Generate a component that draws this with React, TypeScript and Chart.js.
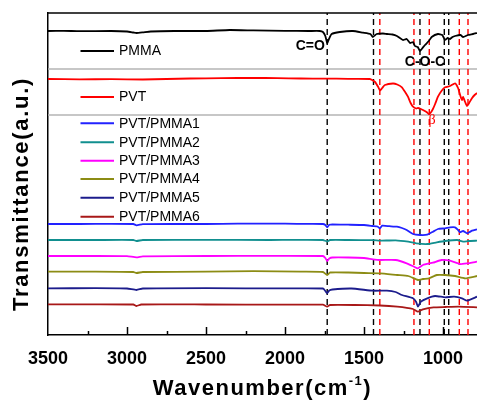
import React, { useEffect, useRef } from "react";
import { Chart, registerables } from "chart.js";

Chart.register(...registerables);

// ---------- data ----------
const X_MIN = 785;
const X_MAX = 3500;
const Y_MIN = 0;
const Y_MAX = 322;

const xTickValues = [1000, 1250, 1500, 1750, 2000, 2250, 2500, 2750, 3000, 3250, 3500];

const seriesLabels = ["PMMA", "PVT", "PVT/PMMA1", "PVT/PMMA2", "PVT/PMMA3", "PVT/PMMA4", "PVT/PMMA5", "PVT/PMMA6"];
const seriesColors = ["#000000", "#ff0000", "#2222ff", "#118f8f", "#ff00ff", "#8c8c14", "#1c1c8c", "#a81818"];

const pmma: [number, number][] = [
  [3500, 304], [3400, 304.2], [3300, 303.8], [3100, 304], [3000, 303.5], [2960, 302.5], [2940, 302], [2900, 302.6],
  [2850, 303.5], [2700, 304], [2500, 304], [2350, 305], [2200, 304.6], [2000, 304.2], [1850, 304], [1780, 304],
  [1760, 303], [1745, 299], [1733, 292], [1722, 296], [1705, 301], [1653, 303], [1570, 304], [1507, 302.3],
  [1460, 301], [1444, 298], [1420, 301], [1380, 301.5], [1355, 301], [1320, 300.5], [1292, 299], [1254, 295],
  [1230, 296], [1209, 292], [1190, 293], [1178, 289], [1160, 288], [1146, 284], [1130, 287], [1114, 290],
  [1090, 294], [1072, 298], [1032, 301], [1005, 300], [987, 295], [970, 297], [956, 296], [940, 298],
  [924, 299], [890, 300], [873, 298], [842, 300], [810, 301], [785, 302],
];

const pvt: [number, number][] = [
  [3500, 256], [3300, 255.7], [3100, 255.8], [2900, 255.5], [2750, 256], [2600, 256.5], [2400, 256.8], [2200, 257.2],
  [2050, 256.8], [1900, 256.5], [1750, 256.4], [1600, 256.2], [1463, 256], [1430, 253], [1410, 248], [1399, 244.5],
  [1385, 247], [1368, 250], [1317, 251.5], [1290, 250.5], [1260, 247.7], [1240, 243], [1222, 238.3], [1205, 232],
  [1190, 228.3], [1170, 226.5], [1159, 227], [1140, 226], [1127, 225], [1100, 222.5], [1089, 220.7], [1075, 223],
  [1064, 226], [1050, 231], [1032, 238.3], [1010, 244], [987, 247.7], [956, 249], [924, 251.7], [905, 247],
  [890, 239], [880, 235], [873, 238], [860, 233], [848, 229], [835, 232], [816, 237], [800, 240], [785, 242],
];

const blend1: [number, number][] = [
  [3500, 111], [3300, 111], [3100, 111.2], [2960, 111], [2940, 109.7], [2900, 110.8], [2700, 111], [2500, 111],
  [2300, 111.4], [2000, 111.3], [1850, 111.1], [1760, 111], [1745, 110], [1733, 107.7], [1720, 110.3], [1700, 110.5],
  [1600, 110.3], [1500, 110], [1444, 109], [1415, 108.5], [1399, 106.7], [1385, 109.3], [1340, 108.8], [1292, 108.3],
  [1260, 107], [1230, 105], [1190, 101], [1146, 100], [1100, 100.3], [1064, 103.3], [1032, 106], [987, 106.7],
  [956, 107.7], [924, 107.7], [905, 105], [893, 102.7], [873, 104], [848, 101.7], [816, 104.3], [785, 105.7],
];

const blend2: [number, number][] = [
  [3500, 95], [3200, 95], [2960, 95], [2940, 94], [2900, 95], [2500, 95.2], [2100, 95], [1760, 95],
  [1733, 93.5], [1715, 95], [1600, 95], [1440, 94.8], [1400, 94.3], [1300, 94.7], [1220, 93.3], [1170, 91.7],
  [1100, 91], [1040, 92.7], [987, 94], [910, 95], [873, 93.3], [840, 94], [785, 94.3],
];

const blend3: [number, number][] = [
  [3500, 79], [3200, 79], [3000, 78.8], [2940, 77.7], [2900, 78.7], [2500, 79], [2100, 79.2], [1760, 79],
  [1745, 77], [1733, 74], [1720, 76.5], [1700, 77.5], [1600, 77.5], [1500, 77], [1444, 75.7], [1399, 75],
  [1300, 75], [1230, 71.7], [1180, 68], [1159, 66.7], [1127, 70], [1064, 72.3], [1010, 75], [956, 74.3],
  [893, 71], [848, 71.7], [785, 73.3],
];

const blend4: [number, number][] = [
  [3500, 63.3], [3200, 63.3], [2960, 63], [2940, 62], [2900, 63], [2500, 63.3], [2200, 63.8], [1900, 63.3],
  [1760, 63], [1733, 60], [1715, 62.5], [1600, 62.5], [1500, 62], [1399, 61.7], [1290, 60], [1220, 59],
  [1159, 55], [1127, 56], [1089, 56.7], [1040, 60], [987, 60], [924, 59], [860, 56.7], [785, 59],
];

const blend5: [number, number][] = [
  [3500, 46.7], [3200, 46.8], [3000, 46.5], [2940, 45], [2900, 46.5], [2500, 46.8], [2000, 46.6], [1760, 46.5],
  [1745, 44], [1733, 41.7], [1720, 44.5], [1700, 45.5], [1580, 46.5], [1444, 44.3], [1355, 44.3], [1300, 43],
  [1260, 40], [1190, 36.7], [1170, 33], [1159, 28.3], [1140, 33.3], [1100, 36.7], [1050, 39], [987, 37.7],
  [930, 38.3], [880, 36.7], [848, 34.3], [785, 38.3],
];

const blend6: [number, number][] = [
  [3500, 30.7], [3200, 30.7], [2960, 30.5], [2940, 29], [2910, 30.5], [2500, 30.5], [2000, 30.4], [1760, 30.3],
  [1733, 28.3], [1715, 30], [1560, 30], [1400, 29.5], [1290, 28.3], [1190, 26], [1159, 23.3], [1127, 25.7],
  [1060, 27.7], [987, 28], [900, 28.3], [785, 27.7],
];

const seriesData = [pmma, pvt, blend1, blend2, blend3, blend4, blend5, blend6];

const blackMarkers = [1733, 1440, 1146, 992, 964];
const redMarkers = [1400, 1184, 1087, 897, 842];
const separatorLevels = [266, 220];

const annotations: { text: string; x: number; y: number; align: CanvasTextAlign; color: string; font: string }[] = [
  { text: "C=O", x: 1748, y: 289, align: "right", color: "#000", font: "bold 14px 'Liberation Sans', Arial, sans-serif" },
  { text: "C-O-C", x: 1114, y: 273, align: "center", color: "#000", font: "bold 14px 'Liberation Sans', Arial, sans-serif" },
  { text: "β", x: 1070, y: 215, align: "center", color: "#ff0000", font: "14px 'Liberation Serif', serif" },
];

// legend row offsets from chart-area top (layout)
const legendRows = [38, 84, 110.3, 129.3, 147.7, 166, 184.7, 203.7];

const SANS = "'Liberation Sans', Arial, sans-serif";

const overlayPlugin = {
  id: "overlay",
  afterDraw(chart: any) {
    const { ctx, chartArea: ca, scales } = chart;
    const xs = scales.x;
    const ys = scales.y;
    ctx.save();
    // top frame line
    ctx.strokeStyle = "#000";
    ctx.lineWidth = 1.5;
    ctx.beginPath();
    ctx.moveTo(ca.left, ca.top);
    ctx.lineTo(ca.right, ca.top);
    ctx.stroke();
    // inward ticks
    for (const v of xTickValues) {
      if (v === X_MAX) continue;
      const px = Math.round(xs.getPixelForValue(v)) + 0.5;
      const len = v % 500 === 0 ? 8 : 4;
      ctx.beginPath();
      ctx.moveTo(px, ca.bottom);
      ctx.lineTo(px, ca.bottom - len);
      ctx.stroke();
    }
    // legend
    ctx.font = "14px " + SANS;
    ctx.textAlign = "left";
    ctx.textBaseline = "middle";
    seriesLabels.forEach((lab, i) => {
      const y = ca.top + legendRows[i];
      ctx.strokeStyle = seriesColors[i];
      ctx.lineWidth = 2;
      ctx.beginPath();
      ctx.moveTo(ca.left + 32.5, y);
      ctx.lineTo(ca.left + 66, y);
      ctx.stroke();
      ctx.fillStyle = "#000";
      ctx.fillText(lab, ca.left + 71, y + 0.5);
    });
    // annotations
    for (const a of annotations) {
      ctx.font = a.font;
      ctx.fillStyle = a.color;
      ctx.textAlign = a.align;
      ctx.textBaseline = "middle";
      ctx.fillText(a.text, xs.getPixelForValue(a.x), ys.getPixelForValue(a.y));
    }
    // x title
    ctx.fillStyle = "#000";
    ctx.textBaseline = "alphabetic";
    ctx.textAlign = "left";
    (ctx as any).letterSpacing = "1.5px";
    const mainFont = "bold 22px " + SANS;
    const supFont = "bold 13px " + SANS;
    ctx.font = mainFont;
    const p1 = "Wavenumber(cm";
    const p3 = ")";
    const w1 = ctx.measureText(p1).width;
    const w3 = ctx.measureText(p3).width;
    ctx.font = supFont;
    const p2 = "-1";
    const w2 = ctx.measureText(p2).width;
    const cx = (ca.left + ca.right) / 2;
    let sx = cx - (w1 + w2 + w3) / 2;
    const base = ca.bottom + 60;
    ctx.font = mainFont;
    ctx.fillText(p1, sx, base);
    sx += w1;
    ctx.font = supFont;
    ctx.fillText(p2, sx, base - 10);
    sx += w2;
    ctx.font = mainFont;
    ctx.fillText(p3, sx, base);
    // y title
    ctx.save();
    (ctx as any).letterSpacing = "1.7px";
    ctx.translate(22, (ca.top + ca.bottom) / 2 + 20);
    ctx.rotate(-Math.PI / 2);
    ctx.textAlign = "center";
    ctx.textBaseline = "middle";
    ctx.font = mainFont;
    ctx.fillText("Transmittance(a.u.)", 0, 0);
    ctx.restore();
    ctx.restore();
  },
};

export default function App() {
  const ref = useRef<HTMLCanvasElement | null>(null);
  useEffect(() => {
    if (!ref.current) return;
    const datasets: any[] = [];
    seriesData.forEach((d, i) => {
      datasets.push({
        label: seriesLabels[i],
        data: d.map(([x, y]) => ({ x, y })),
        borderColor: seriesColors[i],
        borderWidth: 1.8,
        pointRadius: 0,
        tension: 0.15,
        fill: false,
      });
    });
    blackMarkers.forEach((w) => {
      datasets.push({
        label: "m" + w,
        data: [{ x: w, y: Y_MIN }, { x: w, y: Y_MAX }],
        borderColor: "#000",
        borderWidth: 1.4,
        borderDash: [6, 4],
        pointRadius: 0,
      });
    });
    redMarkers.forEach((w) => {
      datasets.push({
        label: "r" + w,
        data: [{ x: w, y: Y_MIN }, { x: w, y: Y_MAX }],
        borderColor: "#ff0000",
        borderWidth: 1.4,
        borderDash: [6, 4],
        pointRadius: 0,
      });
    });
    separatorLevels.forEach((lv) => {
      datasets.push({
        label: "s" + lv,
        data: [{ x: X_MIN, y: lv }, { x: X_MAX, y: lv }],
        borderColor: "#b4b4b4",
        borderWidth: 1.6,
        pointRadius: 0,
      });
    });
    const chart = new Chart(ref.current, {
      type: "line",
      data: { datasets },
      options: {
        animation: false,
        responsive: false,
        devicePixelRatio: 1,
        layout: { padding: { top: 13, right: 0, left: 0, bottom: 0 } },
        plugins: { legend: { display: false }, tooltip: { enabled: false } },
        scales: {
          x: {
            type: "linear",
            min: X_MIN,
            max: X_MAX,
            reverse: true,
            grid: { display: false },
            border: { display: true, color: "#000", width: 1.5 },
            afterBuildTicks: (scale: any) => {
              scale.ticks = xTickValues.map((v) => ({ value: v }));
            },
            afterFit: (scale: any) => {
              scale.height = 68;
            },
            ticks: {
              autoSkip: false,
              maxRotation: 0,
              padding: 5,
              color: "#000",
              font: { family: "'Liberation Sans', Arial, sans-serif", size: 18, weight: "bold" },
              callback: (v: any) => (Number(v) % 500 === 0 ? String(v) : ""),
            },
          },
          y: {
            type: "linear",
            min: Y_MIN,
            max: Y_MAX,
            grid: { display: false },
            ticks: { display: false },
            border: { display: true, color: "#000", width: 1.5 },
            afterFit: (scale: any) => {
              scale.width = 48;
            },
          },
        },
      },
      plugins: [overlayPlugin],
    });
    return () => chart.destroy();
  }, []);
  return (
    <div style={{ position: "fixed", left: 0, top: 0, width: 477, height: 403, background: "#fff" }}>
      <canvas ref={ref} width={477} height={403} style={{ display: "block" }} />
    </div>
  );
}
